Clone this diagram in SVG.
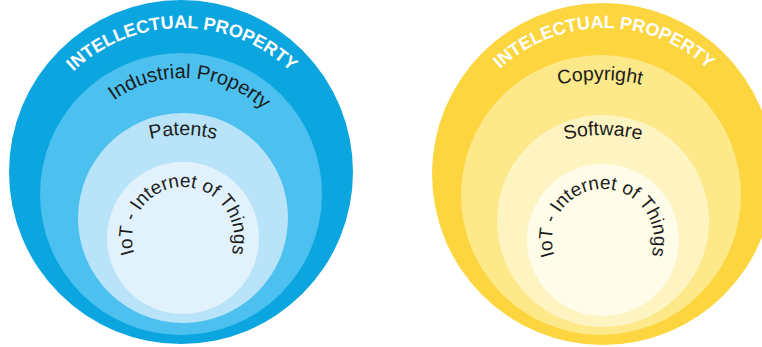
<svg xmlns="http://www.w3.org/2000/svg" xmlns:xlink="http://www.w3.org/1999/xlink" width="762" height="347" viewBox="0 0 762 347">
<style>
  .title { font-family: "Liberation Sans", Arial, sans-serif; font-size: 18px; font-weight: bold; fill: #ffffff; }
  .lbl { font-family: "Liberation Sans", Arial, sans-serif; font-size: 19.5px; fill: #1c1c1c; }
  .iot { font-family: "Liberation Sans", Arial, sans-serif; font-size: 19px; fill: #1c1c1c; }
</style>
<defs>
  <path id="pL1" d="M25,185 A157,157 0 0 1 339,185"/>
  <path id="pL2" d="M66,195 A117,117 0 0 1 300,195"/>
  <path id="pL3" d="M53,265 A130,130 0 0 1 313,265"/>
  <path id="pL4" d="M183,289 A51,51 0 1 1 183,187 A51,51 0 1 1 183,289"/>
  <path id="pR1" d="M452,180 A152,152 0 0 1 756,180"/>
  <path id="pR2" d="M410,270 A190,190 0 0 1 790,270"/>
  <path id="pR3" d="M453,285 A150,150 0 0 1 753,285"/>
  <path id="pR4" d="M603,291 A51,51 0 1 1 603,189 A51,51 0 1 1 603,291"/>
</defs>
<rect width="762" height="347" fill="#ffffff"/>

<g id="left-intellectual-property">
  <circle cx="181" cy="172" r="172" fill="#0BA5E0"/>
  <text class="title"><textPath href="#pL1" xlink:href="#pL1" startOffset="50%" text-anchor="middle">INTELLECTUAL PROPERTY</textPath></text>
</g>
<g id="left-industrial-property">
  <circle cx="181" cy="194" r="141" fill="#4CC0EE"/>
  <text class="lbl" style="font-size:20px"><textPath href="#pL2" xlink:href="#pL2" startOffset="52%" text-anchor="middle">Industrial Property</textPath></text>
</g>
<g id="left-patents">
  <circle cx="183" cy="218" r="105" fill="#B8E3F8"/>
  <text class="lbl"><textPath href="#pL3" xlink:href="#pL3" startOffset="50%" text-anchor="middle">Patents</textPath></text>
</g>
<g id="left-iot">
  <circle cx="183" cy="238" r="76" fill="#E1F2FC"/>
  <text class="iot"><textPath href="#pL4" xlink:href="#pL4" startOffset="50%" text-anchor="middle">IoT - Internet of Things</textPath></text>
</g>

<g id="right-intelectual-property">
  <circle cx="603" cy="174" r="171" fill="#FCD53F"/>
  <text class="title"><textPath href="#pR1" xlink:href="#pR1" startOffset="50%" text-anchor="middle">INTELECTUAL PROPERTY</textPath></text>
</g>
<g id="right-copyright">
  <circle cx="601" cy="195" r="140" fill="#FDE88A"/>
  <text class="lbl"><textPath href="#pR2" xlink:href="#pR2" startOffset="50%" text-anchor="middle">Copyright</textPath></text>
</g>
<g id="right-software">
  <circle cx="603" cy="221" r="106" fill="#FEF4C2"/>
  <text class="lbl"><textPath href="#pR3" xlink:href="#pR3" startOffset="50%" text-anchor="middle">Software</textPath></text>
</g>
<g id="right-iot">
  <circle cx="603" cy="240" r="76" fill="#FFFCEA"/>
  <text class="iot"><textPath href="#pR4" xlink:href="#pR4" startOffset="50%" text-anchor="middle">IoT - Internet of Things</textPath></text>
</g>
</svg>
